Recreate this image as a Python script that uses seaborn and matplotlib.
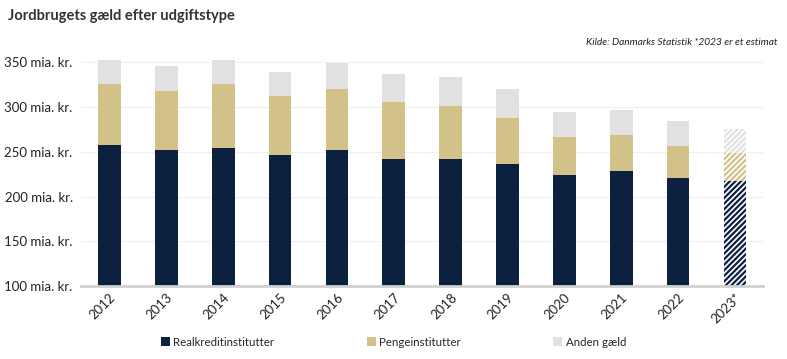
import matplotlib
matplotlib.use("Agg")
from matplotlib import pyplot as plt
from matplotlib.patches import Patch
import seaborn as sns
import pandas as pd

# Data (mia. kr.)
years = ["2012", "2013", "2014", "2015", "2016", "2017", "2018",
         "2019", "2020", "2021", "2022", "2023*"]
realkredit = [258, 252, 254, 246, 252, 242, 242, 236, 224, 228, 221, 217]
penge = [68, 66, 71, 66, 68, 63, 59, 52, 42, 41, 35, 31]
anden = [26, 28, 27, 27, 29, 32, 32, 32, 28, 27, 28, 27]

series_names = ["Realkreditinstitutter", "Pengeinstitutter", "Anden gæld"]
colors = ["#0c2140", "#d2c28a", "#e1e1e1"]


def main():
    sns.set_style("white")
    plt.rcParams["font.family"] = ["Lato", "DejaVu Sans"]
    plt.rcParams["hatch.linewidth"] = 1.6

    df = pd.DataFrame({"year": years, "real": realkredit,
                       "penge": penge, "anden": anden})
    df["c1"] = df["real"]
    df["c2"] = df["real"] + df["penge"]
    df["c3"] = df["c2"] + df["anden"]

    fig = plt.figure(figsize=(7.87, 3.59), dpi=100)
    ax = fig.add_axes([0.103, 0.203, 0.867, 0.649])

    # draw cumulative stacks from top down so lower series overlay
    for col, c in zip(["c3", "c2", "c1"], colors[::-1]):
        sns.barplot(data=df, x="year", y=col, color=c, width=0.4,
                    saturation=1, ax=ax, linewidth=0)

    # hatch the estimate bar (last of each series)
    n = len(years)
    for k, c in enumerate(colors[::-1]):
        p = ax.patches[k * n + n - 1]
        p.set_facecolor("white")
        p.set_edgecolor(c)
        p.set_hatch("//////")
        p.set_linewidth(0)

    ax.set_ylim(100, 360)
    ax.set_yticks([100, 150, 200, 250, 300, 350])
    ax.set_yticklabels([f"{v} mia. kr." for v in [100, 150, 200, 250, 300, 350]],
                       fontsize=9.5, color="#222222")
    ax.set_xlim(-0.5, n - 0.5)
    ax.set_xlabel("")
    ax.set_ylabel("")
    ax.grid(axis="y", color="#efefef", linewidth=0.8)
    ax.set_axisbelow(True)
    for s in ["top", "right", "left"]:
        ax.spines[s].set_visible(False)
    ax.spines["bottom"].set_color("#d0d0d0")
    ax.spines["bottom"].set_linewidth(2)
    ax.tick_params(axis="y", length=0, pad=6)
    ax.tick_params(axis="x", length=0, pad=4)
    plt.setp(ax.get_xticklabels(), rotation=45, ha="right",
             rotation_mode="anchor", fontsize=9.5, color="#222222")

    fig.text(0.01, 0.955, "Jordbrugets gæld efter udgiftstype",
             fontsize=10.5, fontweight="bold", color="#333333", va="center")
    fig.text(0.988, 0.882, "Kilde: Danmarks Statistik *2023 er et estimat",
             fontsize=7.3, style="italic", color="#222222", ha="right",
             va="center")

    handles = [Patch(facecolor=c, edgecolor="none") for c in colors]
    fig.legend(handles, series_names, loc="center", ncol=3,
               bbox_to_anchor=(0.5, 0.047), frameon=False, fontsize=8.3,
               handlelength=0.8, handleheight=0.8, handletextpad=0.3,
               columnspacing=8.0)

    fig.savefig("out.png", dpi=100, facecolor="white")


if __name__ == "__main__":
    main()
